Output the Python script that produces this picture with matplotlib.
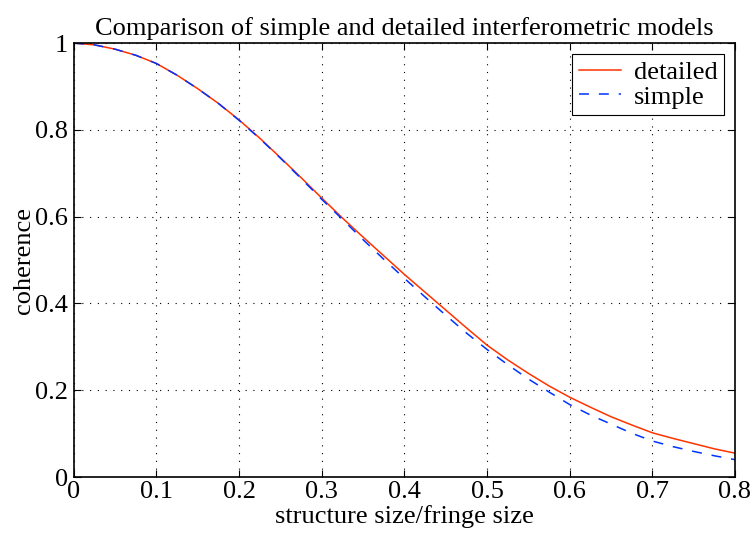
import numpy as np
import matplotlib
matplotlib.use('Agg')
import matplotlib.pyplot as plt

# values
size_ratio = [0.0, 0.025, 0.05, 0.075, 0.1, 0.125, 0.15, 0.175, 0.2, 0.225,
              0.25, 0.275, 0.3, 0.325, 0.35, 0.375, 0.4, 0.425, 0.45, 0.475,
              0.5, 0.525, 0.55, 0.575, 0.6, 0.625, 0.65, 0.675, 0.7, 0.725,
              0.75, 0.775, 0.8]
detailed = [1.0, 0.996, 0.986, 0.972, 0.953, 0.926, 0.895, 0.861, 0.823, 0.781,
            0.736, 0.690, 0.643, 0.597, 0.553, 0.510, 0.467, 0.426, 0.385, 0.344,
            0.304, 0.270, 0.239, 0.210, 0.184, 0.161, 0.139, 0.120, 0.102, 0.089,
            0.077, 0.065, 0.055]
simple = [1.0, 0.996, 0.986, 0.972, 0.953, 0.926, 0.895, 0.861, 0.822, 0.780,
          0.735, 0.688, 0.640, 0.594, 0.547, 0.502, 0.458, 0.415, 0.373, 0.332,
          0.294, 0.259, 0.226, 0.196, 0.167, 0.143, 0.122, 0.101, 0.083, 0.070,
          0.059, 0.049, 0.040]

xticks = [0, 0.1, 0.2, 0.3, 0.4, 0.5, 0.6, 0.7, 0.8]
xticklabels = ['0', '0.1', '0.2', '0.3', '0.4', '0.5', '0.6', '0.7', '0.8']
yticks = [0, 0.2, 0.4, 0.6, 0.8, 1]
yticklabels = ['0', '0.2', '0.4', '0.6', '0.8', '1']

plt.rcParams['font.family'] = ['Liberation Serif', 'DejaVu Serif']
plt.rcParams['font.size'] = 19

fig = plt.figure(figsize=(7.53, 5.39), dpi=100)
ax = fig.add_axes([0.098, 0.115, 0.878, 0.805])

ax.plot(size_ratio, detailed, color='#ff3300', lw=1.1, label='detailed')
ax.plot(size_ratio, simple, color='#0033ff', lw=1.1, ls=(0, (6.5, 6.5)), label='simple')

ax.set_xlim(0, 0.8)
ax.set_ylim(0, 1)
ax.set_xticks(xticks)
ax.set_xticklabels(xticklabels)
ax.set_yticks(yticks)
ax.set_yticklabels(yticklabels)
ax.tick_params(axis='x', pad=3)
ax.tick_params(direction='in', top=True, right=True, length=5, width=0.8)
ax.tick_params(axis='y', pad=4)
ax.grid(True, color='black', ls=(0, (1, 6)), lw=0.8)
for sp in ax.spines.values():
    sp.set_linewidth(1.2)

ax.set_xlabel('structure size/fringe size', labelpad=1)
ax.set_ylabel('coherence', labelpad=0)
ax.set_title('Comparison of simple and detailed interferometric models', fontsize=19, pad=6)

leg = ax.legend(loc='upper right', fancybox=False, framealpha=1, edgecolor='black',
                handlelength=1.6, handletextpad=0.5, borderpad=0.25,
                labelspacing=0.05, borderaxespad=0.4)
leg.get_frame().set_linewidth(0.8)

plt.savefig('out.png', dpi=100)
